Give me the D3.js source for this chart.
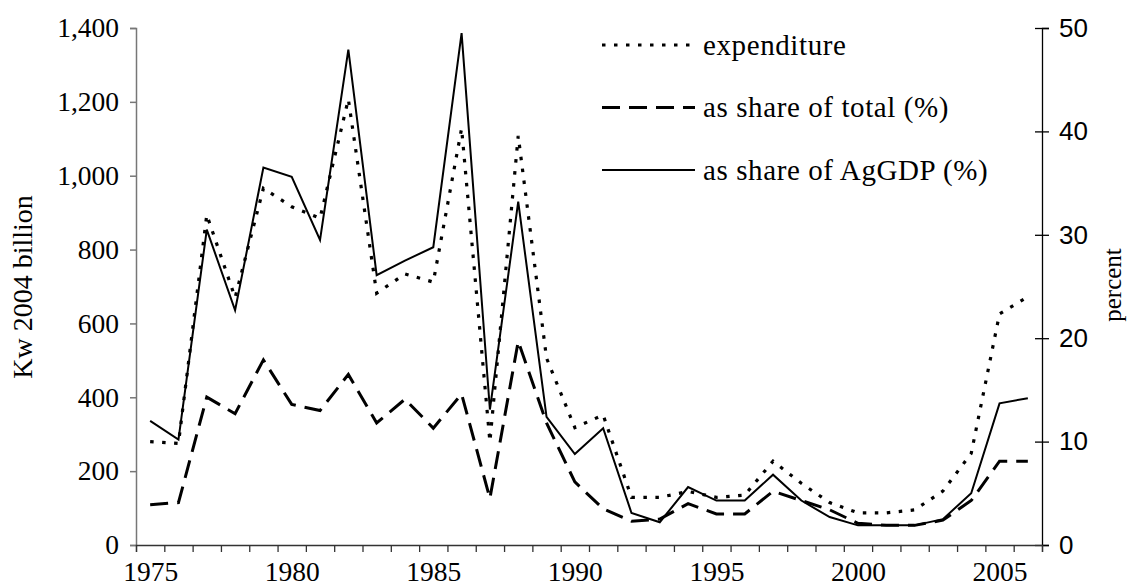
<!DOCTYPE html>
<html>
<head>
<meta charset="utf-8">
<script src="https://cdn.jsdelivr.net/npm/d3@7"></script>
<style>
  body { margin: 0; background: #fff; }
  svg { display: block; }
  .serif { font-family: "Liberation Serif", "Times New Roman", serif; }
  .sans { font-family: "Liberation Sans", Arial, sans-serif; }
</style>
</head>
<body>
<svg class="chart" width="1127" height="588"></svg>
<script>
// years on the category axis
var years = d3.range(1975, 2007);

// expenditure, Kw 2004 billion (left axis)
var expenditure = [280, 275, 894, 670, 966, 916, 885, 1207, 682, 734, 712, 1128, 280, 1108, 506, 318,
                   352, 129, 129, 145, 129, 135, 227, 167, 115, 87, 87, 95, 146, 248, 626, 672];

// as share of total, % (right axis)
var shareTotal = [3.9, 4.1, 14.3, 12.7, 17.9, 13.6, 13.0, 16.5, 11.8, 14.1, 11.3, 14.6, 4.5, 19.7, 11.8, 6.1,
                  3.5, 2.3, 2.5, 4.0, 3.0, 3.0, 5.2, 4.3, 3.4, 2.1, 1.9, 1.9, 2.4, 4.3, 8.1, 8.1];

// as share of AgGDP, % (right axis)
var shareAgGDP = [12.0, 10.2, 30.5, 22.7, 36.5, 35.6, 29.5, 47.9, 26.1, 27.5, 28.8, 49.5, 13.1, 33.2, 12.4, 8.8,
                  11.3, 3.1, 2.2, 5.6, 4.3, 4.3, 6.8, 4.3, 2.7, 1.9, 1.9, 1.9, 2.5, 5.0, 13.7, 14.2];

var leftTicks = [0, 200, 400, 600, 800, 1000, 1200, 1400];
var rightTicks = [0, 10, 20, 30, 40, 50];
var yearLabels = [1975, 1980, 1985, 1990, 1995, 2000, 2005];

var legendItems = [
  {label: "expenditure", dash: "3.5,8.5", width: 3.2},
  {label: "as share of total (%)", dash: "18,9", width: 3},
  {label: "as share of AgGDP (%)", dash: null, width: 2}
];

var plotLeft = 136, plotRight = 1042, plotTop = 28, plotBottom = 545;

var svg = d3.select(".chart");

var x = d3.scaleLinear().domain([1974.5, 2006.5]).range([plotLeft, plotRight]);
var yL = d3.scaleLinear().domain([0, 1400]).range([plotBottom, plotTop]);
var yR = d3.scaleLinear().domain([0, 50]).range([plotBottom, plotTop]);

// left axis
var gl = svg.append("g")
    .attr("class", "serif")
    .attr("transform", "translate(" + plotLeft + ",0)")
    .call(d3.axisLeft(yL).tickValues(leftTicks).tickSize(6).tickPadding(11).tickFormat(d3.format(",")));
gl.selectAll("text").attr("font-size", 27.5).attr("fill", "#000");
gl.selectAll("line, path").attr("stroke", "#777").attr("stroke-width", 1.5);

// right axis, ticks cross the line
var gr = svg.append("g")
    .attr("class", "sans")
    .attr("transform", "translate(" + plotRight + ",0)")
    .call(d3.axisRight(yR).tickValues(rightTicks).tickSize(7).tickPadding(10));
gr.selectAll(".tick line").attr("x1", -7);
gr.selectAll("text").attr("font-size", 26).attr("fill", "#000");
gr.selectAll("line, path").attr("stroke", "#000").attr("stroke-width", 1.3);

// bottom axis: ticks between categories
var gb = svg.append("g")
    .attr("transform", "translate(0," + plotBottom + ")")
    .call(d3.axisBottom(x).tickValues(d3.range(1974.5, 2007, 1)).tickSize(7).tickFormat(""));
gb.selectAll("line, path").attr("stroke", "#333").attr("stroke-width", 1.3);

var gbl = svg.append("g")
    .attr("class", "serif")
    .attr("transform", "translate(0," + plotBottom + ")")
    .call(d3.axisBottom(x).tickValues(yearLabels).tickSize(0).tickPadding(16).tickFormat(d3.format("d")));
gbl.select(".domain").remove();
gbl.selectAll("text").attr("font-size", 27.5).attr("fill", "#000");

// axis titles
svg.append("text")
    .attr("class", "serif")
    .attr("transform", "translate(32,287) rotate(-90)")
    .attr("text-anchor", "middle")
    .attr("font-size", 28)
    .text("Kw 2004 billion");

svg.append("text")
    .attr("class", "serif")
    .attr("transform", "translate(1121,285) rotate(-90)")
    .attr("text-anchor", "middle")
    .attr("font-size", 25)
    .text("percent");

// lines
var lineL = d3.line().x(function(d, i) { return x(years[i]); }).y(function(d) { return yL(d); });
var lineR = d3.line().x(function(d, i) { return x(years[i]); }).y(function(d) { return yR(d); });

svg.append("path").datum(expenditure)
    .attr("d", lineL).attr("fill", "none").attr("stroke", "#000")
    .attr("stroke-width", 3.2).attr("stroke-dasharray", "3.5,8.5");

svg.append("path").datum(shareTotal)
    .attr("d", lineR).attr("fill", "none").attr("stroke", "#000")
    .attr("stroke-width", 3).attr("stroke-dasharray", "18,9");

svg.append("path").datum(shareAgGDP)
    .attr("d", lineR).attr("fill", "none").attr("stroke", "#000")
    .attr("stroke-width", 2);

// legend
var legend = svg.append("g").attr("class", "serif");
var lg = legend.selectAll("g").data(legendItems).enter().append("g")
    .attr("transform", function(d, i) { return "translate(602," + (45 + i * 62.5) + ")"; });
lg.append("line")
    .attr("x1", 0).attr("x2", 93).attr("y1", 0).attr("y2", 0)
    .attr("stroke", "#000")
    .attr("stroke-width", function(d) { return d.width; })
    .attr("stroke-dasharray", function(d) { return d.dash; });
lg.append("text")
    .attr("x", 101).attr("y", 0).attr("dy", "0.33em")
    .attr("font-size", 29)
    .attr("letter-spacing", 0.6)
    .text(function(d) { return d.label; });
</script>
</body>
</html>
